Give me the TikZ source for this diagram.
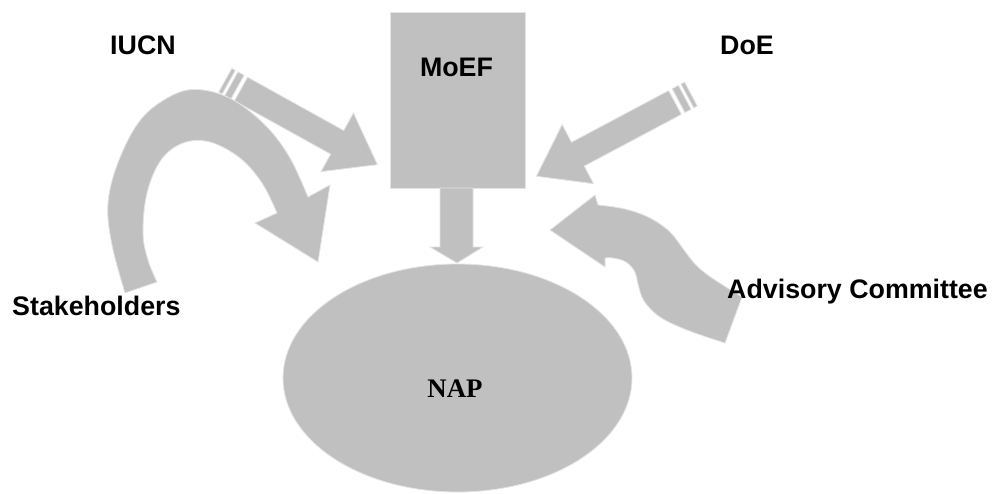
\documentclass[tikz,border=0pt]{standalone}
\usepackage{fontspec}
\setmainfont{Liberation Serif}
\newfontfamily\labfont{Liberation Sans}
\usetikzlibrary{shapes.geometric}
\definecolor{shgray}{RGB}{192,192,192}
\definecolor{shline}{RGB}{228,228,228}
\begin{document}
\begin{tikzpicture}[x=1pt,y=-1pt,
  shp/.style={fill=shgray, draw=shline, line width=0.8pt},
  lab/.style={font=\labfont\bfseries\fontsize{26.8}{30}\selectfont, inner sep=0pt},
  serlab/.style={font=\bfseries\fontsize{26.8}{30}\selectfont, inner sep=0pt}]
\useasboundingbox (0,0) rectangle (995,493);

% NAP ellipse
\node[shp, ellipse, minimum width=349pt, minimum height=228pt, inner sep=0pt] (nap) at (457.5,378) {};
\node[serlab, anchor=base] (naptext) at (455,397) {NAP};

% MoEF box
\node[shp, minimum width=135pt, minimum height=176pt, anchor=north west, inner sep=0pt] (moef) at (390,12) {};
\node[lab, anchor=base] (moeftext) at (456.5,76) {MoEF};

% down arrow MoEF -> NAP
\filldraw[shp] (440,188) -- (473,188) -- (473,247) -- (483,247) -- (457,263) -- (430,247) -- (440,247) -- cycle;

% IUCN striped arrow
\begin{scope}[shift={(241,89)}, rotate=-29]
  \filldraw[shp] (0,-13.5) -- (110,-13.5) -- (110,-33.5) -- (156,0) -- (110,33.5) -- (110,13.5) -- (0,13.5) -- cycle;
  \filldraw[shp] (-4,-13.5) rectangle (-11,13.5);
  \filldraw[shp] (-14,-13.5) rectangle (-18,13.5);
\end{scope}

% DoE striped arrow
\begin{scope}[shift={(675,102.5)}, rotate=208]
  \filldraw[shp] (0,-13.5) -- (110,-13.5) -- (110,-33.5) -- (157,0) -- (110,33.5) -- (110,13.5) -- (0,13.5) -- cycle;
  \filldraw[shp] (-4,-13.5) rectangle (-11,13.5);
  \filldraw[shp] (-14,-13.5) rectangle (-18,13.5);
\end{scope}

% Stakeholders curved arrow
\filldraw[shp] plot[smooth, tension=0.6] coordinates {(125,293) (112,245) (108,203) (119,160) (142,118) (175,94) (203,90) (235,101) (267,127) (290,158) (308,197)}
  -- (330,185) -- (318,262) -- (255,223)
  -- plot[smooth, tension=0.6] coordinates {(277,213) (262,183) (240,158) (210,142) (183,143) (161,160) (147,193) (143,233) (148,260) (157,282)}
  -- cycle;

% Advisory Committee curved arrow
\filldraw[shp] (595,195) -- (598,205)
  -- plot[smooth, tension=0.6] coordinates {(598,205) (625,209) (650,218) (670,232) (684,250) (696,265) (712,278) (742,297)}
  -- (725,343)
  -- plot[smooth, tension=0.6] coordinates {(725,343) (687,330) (660,317) (644,301) (638,284) (635,272) (626,262) (613,258) (605,258)}
  -- (605,267) -- (550,230) -- cycle;

% labels
\node[lab] (iucn) at (143,45) {IUCN};
\node[lab] (doe) at (747,45) {DoE};
\node[lab, anchor=base west] (stake) at (12,315) {Stakeholders};
\node[lab, anchor=base west] (adv) at (727,298) {Advisory Committee};
\end{tikzpicture}
\end{document}
